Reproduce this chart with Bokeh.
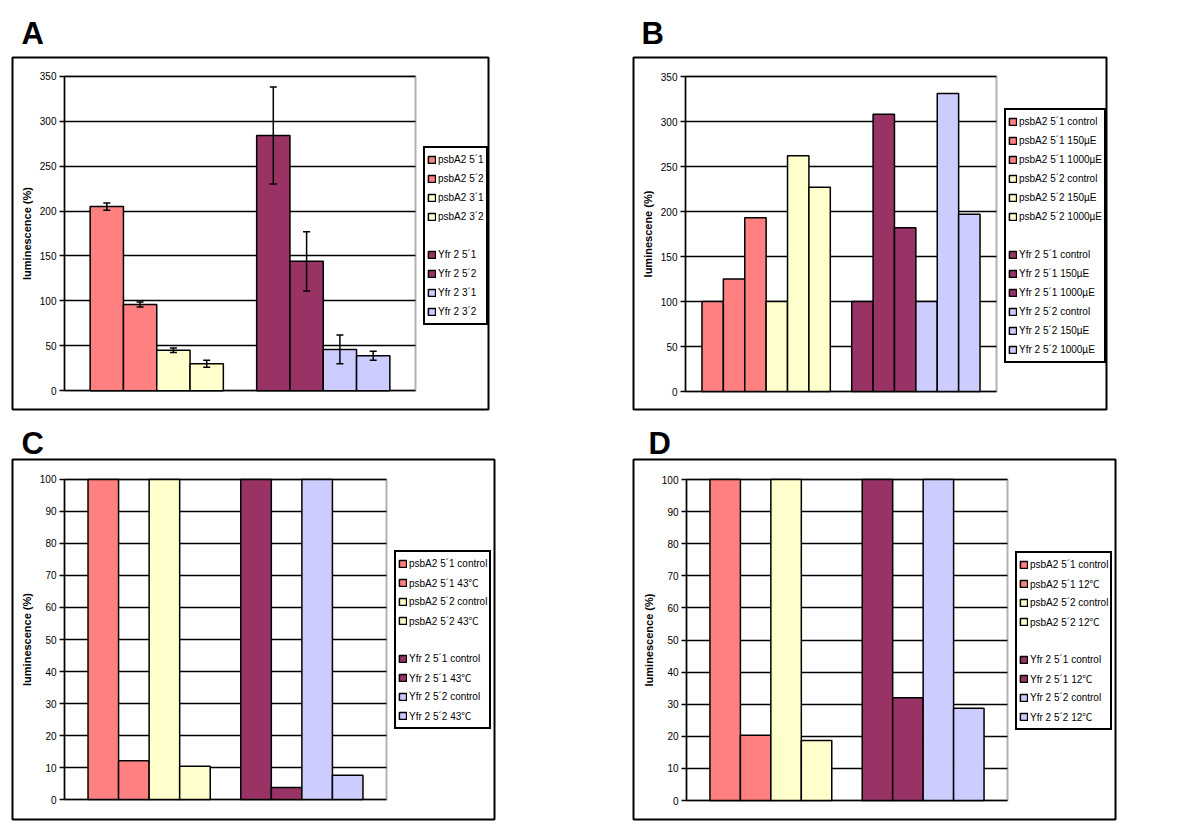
from bokeh.plotting import figure
from bokeh.models import (Range1d, Legend, LegendItem, Whisker, ColumnDataSource, TeeHead,
                          BoxAnnotation, Grid)
from bokeh.layouts import column, row
from bokeh.embed import file_html
from bokeh.resources import INLINE

FONT = "Liberation Sans"
LEG_FONT = "'Liberation Sans', 'Noto Sans CJK JP'"
SALMON, YELLOW, MAROON, LAVENDER = "#FF8080", "#FFFFCC", "#993366", "#CCCCFF"

# ---------------- data ----------------
a_labels = ["psbA2 5´1", "psbA2 5´2", "psbA2 3´1", "psbA2 3´2",
            "Yfr 2 5´1", "Yfr 2 5´2", "Yfr 2 3´1", "Yfr 2 3´2"]
a_values = [205, 96, 45, 30, 284, 144, 46, 39]
a_errors = [4, 2.7, 2.6, 3.8, 54, 33, 16, 5]
a_colors = [SALMON, SALMON, YELLOW, YELLOW, MAROON, MAROON, LAVENDER, LAVENDER]

b_labels = ["psbA2 5´1 control", "psbA2 5´1 150µE", "psbA2 5´1 1000µE",
            "psbA2 5´2 control", "psbA2 5´2 150µE", "psbA2 5´2 1000µE",
            "Yfr 2 5´1 control", "Yfr 2 5´1 150µE", "Yfr 2 5´1 1000µE",
            "Yfr 2 5´2 control", "Yfr 2 5´2 150µE", "Yfr 2 5´2 1000µE"]
b_values = [100, 125, 193, 100, 262, 227, 100, 308, 182, 100, 331, 197]
b_colors = [SALMON] * 3 + [YELLOW] * 3 + [MAROON] * 3 + [LAVENDER] * 3

c_labels = ["psbA2 5´1 control", "psbA2 5´1 43℃", "psbA2 5´2 control", "psbA2 5´2 43℃",
            "Yfr 2 5´1 control", "Yfr 2 5´1 43℃", "Yfr 2 5´2 control", "Yfr 2 5´2 43℃"]
c_values = [100, 12.1, 100, 10.4, 100, 3.8, 100, 7.6]

d_labels = ["psbA2 5´1 control", "psbA2 5´1 12℃", "psbA2 5´2 control", "psbA2 5´2 12℃",
            "Yfr 2 5´1 control", "Yfr 2 5´1 12℃", "Yfr 2 5´2 control", "Yfr 2 5´2 12℃"]
d_values = [100, 20.3, 100, 18.7, 100, 32.0, 100, 28.7]
cd_colors = [SALMON, SALMON, YELLOW, YELLOW, MAROON, MAROON, LAVENDER, LAVENDER]

ticks_350 = [0, 50, 100, 150, 200, 250, 300, 350]
ticks_100 = [0, 10, 20, 30, 40, 50, 60, 70, 80, 90, 100]

EDGE = 0.77
ROW_H = 19
LEG_PAD = 2
HAS_CROSS = "cross_bounds" in Grid.properties()


def extend(p0, p1, d0, d1, b0, b1):
    s = (d1 - d0) / (p1 - p0)
    return d0 + (b0 - p0) * s, d0 + (b1 - p0) * s


def panel(letter, labels, values, colors, errors, y_ticks, y_label, n,
          fig_box, box, plot, leg, letter_pos, title_standoff):
    fx, fy, fw, fh = fig_box
    bl, bt, br, bb = box
    pl, pt, pr, pb = plot
    xs = [(i // n) * (n + 1) + (i % n) for i in range(len(values))]
    x0, x1 = -0.5 - EDGE, 2 * n + 0.5 + EDGE
    y0, y1 = y_ticks[0], y_ticks[-1]
    xr = extend(pl, pr, x0, x1, bl, br)
    yr = extend(pb, pt, y0, y1, bb, bt)

    p = figure(width=fw, height=fh, output_backend="svg", toolbar_location=None,
               title=letter, x_range=Range1d(*xr), y_range=Range1d(*yr),
               x_axis_location=None,
               min_border_left=bl - fx, min_border_right=fx + fw - br,
               min_border_top=bt - fy, min_border_bottom=fy + fh - bb)
    p.background_fill_color = "white"
    p.border_fill_color = "white"
    p.outline_line_color = "black"
    p.outline_line_width = 2

    p.title.text_font = FONT
    p.title.text_font_style = "bold"
    p.title.text_font_size = "31px"
    p.title.text_color = "black"
    p.title.align = "left"
    p.title.offset = letter_pos[0] - bl
    p.title.standoff = title_standoff

    p.xgrid.grid_line_color = None
    p.ygrid.grid_line_color = "black"
    p.ygrid.grid_line_width = 1.5
    p.ygrid.bounds = (y0, y1)

    ax = p.yaxis[0]
    ax.fixed_location = x0
    ax.bounds = (y0, y1)
    ax.ticker = y_ticks
    ax.axis_label = y_label
    ax.axis_label_text_font = FONT
    ax.axis_label_text_font_style = "bold"
    ax.axis_label_text_font_size = "11px"
    ax.axis_label_text_color = "black"
    ax.axis_label_standoff = 4
    ax.major_label_text_font = FONT
    ax.major_label_text_font_size = "10px"
    ax.major_label_text_color = "black"
    ax.major_label_standoff = 3
    ax.axis_line_color = "black"
    ax.axis_line_width = 1.5
    ax.major_tick_line_color = "black"
    ax.major_tick_line_width = 1.5
    ax.major_tick_out = 5
    ax.major_tick_in = 0
    ax.minor_tick_line_color = None

    if HAS_CROSS:
        p.ygrid.cross_bounds = (x0, x1)
    else:
        p.ygrid.grid_line_color = None
        p.segment(x0=[x0] * len(y_ticks), x1=[x1] * len(y_ticks), y0=y_ticks, y1=y_ticks,
                  line_color="black", line_width=1.5, level="underlay")

    # plot-area border
    p.add_layout(BoxAnnotation(left=x0, right=x1, bottom=y0, top=y1, fill_color=None,
                               line_color="black", line_width=2, level="underlay"))

    src = ColumnDataSource(dict(x=xs, top=values, color=colors))
    bars = p.vbar(x="x", top="top", width=1, source=src, fill_color="color",
                  line_color="black", line_width=1.5)

    if errors is not None:
        esrc = ColumnDataSource(dict(base=xs,
                                     upper=[v + e for v, e in zip(values, errors)],
                                     lower=[v - e for v, e in zip(values, errors)]))
        p.add_layout(Whisker(base="base", upper="upper", lower="lower", source=esrc,
                             level="annotation",
                             line_color="black", line_width=1.5,
                             upper_head=TeeHead(size=7, line_width=1.5, line_color="black"),
                             lower_head=TeeHead(size=7, line_width=1.5, line_color="black")))

    # legend
    items = []
    half = len(labels) // 2
    for i, lab in enumerate(labels):
        if i == half:
            blank = p.scatter(x=[], y=[], marker="square", fill_alpha=0, line_alpha=0)
            items.append(LegendItem(label=" ", renderers=[blank]))
        items.append(LegendItem(label=lab, renderers=[bars], index=i))
    lx, ly = leg
    rows = len(items)
    leg_bottom = ly + rows * ROW_H + 2 * LEG_PAD + 4
    legend = Legend(items=items, location=(lx - bl, bb - leg_bottom),
                    label_text_font=LEG_FONT, label_text_font_size="10px",
                    label_text_color="black",
                    glyph_width=9, glyph_height=9, label_height=ROW_H,
                    spacing=0, padding=LEG_PAD, margin=0, label_standoff=2,
                    border_line_color="black", border_line_width=2, border_line_alpha=1,
                    background_fill_color="white", background_fill_alpha=1)
    p.add_layout(legend)
    return p


pa = panel("A", a_labels, a_values, a_colors, a_errors, ticks_350, "luminescence (%)", 4,
           (0, 0, 600, 418), (12, 57, 488, 413), (64, 76, 415, 394), (423, 150), (21, 43), 13)
pb_ = panel("B", b_labels, b_values, b_colors, None, ticks_350, "luminescene (%)", 6,
            (600, 0, 600, 418), (633, 57, 1106, 409), (685, 76, 996, 391), (1004, 108), (641, 43), 13)
pc = panel("C", c_labels, c_values, cd_colors, None, ticks_100, "luminescence (%)", 4,
           (0, 418, 600, 410), (12, 459, 494, 820), (64, 479, 386, 800), (394, 551), (21, 456), -3)
pd_ = panel("D", d_labels, d_values, cd_colors, None, ticks_100, "luminescence (%)", 4,
            (600, 418, 600, 410), (633, 459, 1115, 819), (686, 479, 1007, 800), (1015, 551), (648, 456), -3)

layout = column(row(pa, pb_), row(pc, pd_))
open("out.html", "w").write(file_html(layout, INLINE, "luminescence"))
